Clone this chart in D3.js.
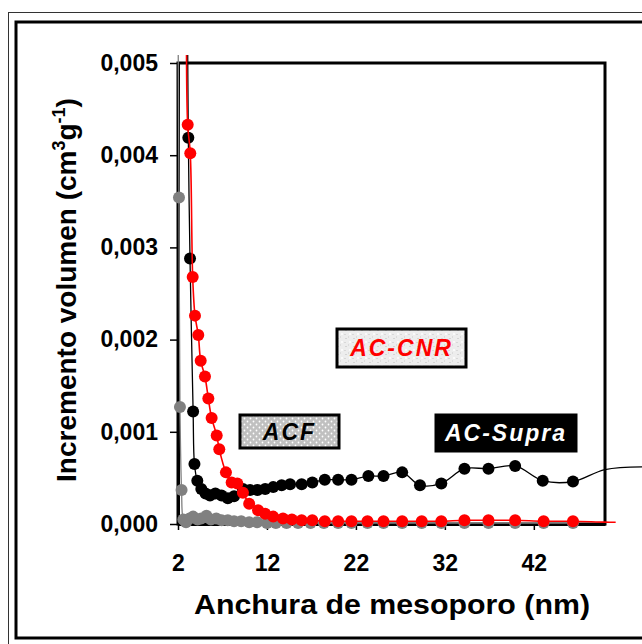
<!DOCTYPE html>
<html>
<head>
<meta charset="utf-8">
<script src="https://cdn.jsdelivr.net/npm/d3@7"></script>
<style>
  body { margin: 0; background: #fff; }
  svg { display: block; font-family: "Liberation Sans", Arial, sans-serif; }
</style>
</head>
<body>
<svg id="chart" width="642" height="644"></svg>
<script>
// AC-CNR (red)
const cnrX = [2.95, 3.09, 3.38, 3.65, 3.91, 4.28, 4.55, 5.03, 5.41, 5.78, 6.35, 6.64, 7.39, 8.03, 8.67, 9.3, 10.0, 11.0, 11.8, 12.7, 13.8, 14.8, 15.9, 17.1, 18.5, 20.0, 21.5, 23.3, 25.1, 27.2, 29.4, 31.6, 34.2, 36.9, 39.9, 43.1, 46.4, 50.0, 51.2];
const cnrY = [0.0053, 0.00433, 0.00402, 0.00268, 0.00226, 0.00205, 0.00177, 0.00160, 0.00136, 0.00115, 0.00096, 0.00081, 0.00056, 0.00045, 0.00044, 0.00034, 0.00022, 0.00015, 0.00011, 0.00008, 0.00006, 0.00005, 0.00004, 0.00004, 0.00003, 0.00003, 0.00003, 0.00003, 0.00003, 0.00003, 0.00003, 0.00003, 0.00004, 0.00004, 0.00004, 0.00003, 0.00003, 0.00002, 0.00002];

// AC-Supra (black)
const supraX = [3.05, 3.16, 3.35, 3.70, 3.85, 4.17, 4.62, 5.1, 5.6, 6.2, 6.9, 7.6, 8.3, 9.3, 10.1, 10.95, 11.8, 12.7, 13.65, 14.6, 15.9, 17.1, 18.5, 20.0, 21.5, 23.4, 25.1, 27.2, 29.2, 31.6, 34.2, 36.9, 39.9, 43.0, 46.4, 50.0, 54.5];
const supraY = [0.0058, 0.00419, 0.00288, 0.00122, 0.00065, 0.00047, 0.00038, 0.00033, 0.00031, 0.00033, 0.00031, 0.00028, 0.00030, 0.00038, 0.00037, 0.00037, 0.00038, 0.00040, 0.00042, 0.00043, 0.00043, 0.00045, 0.00048, 0.00048, 0.00048, 0.00052, 0.00052, 0.00056, 0.00042, 0.00044, 0.00060, 0.00060, 0.00063, 0.00047, 0.00046, 0.00059, 0.00062];

// ACF (gray)
const acfX = [2.0, 2.11, 2.22, 2.40, 2.6, 2.9, 3.3, 3.7, 4.2, 4.6, 5.2, 5.7, 6.3, 6.9, 7.6, 8.3, 9.1, 10.0, 10.9, 12.0, 13.0, 14.2, 15.5, 16.9, 18.4, 20.0, 21.5, 23.3, 25.1, 27.2, 29.4, 31.6, 34.2, 36.9, 39.9, 43.1, 46.4];
const acfY = [0.0056, 0.00354, 0.00127, 0.00037, 0.00005, 0.00002, 0.00006, 0.00008, 0.00005, 0.00006, 0.00009, 0.00005, 0.00006, 0.00004, 0.00004, 0.00003, 0.00003, 0.00002, 0.00002, 0.00001, 0.00001, 0.00001, 0.00001, 0.00001, 0.00001, 0.00001, 0.00001, 0.00001, 0.00001, 0.00001, 0.00001, 0.00001, 0.00001, 0.00001, 0.00001, 0.00001, 0.00001];

const xTicks = [2, 12, 22, 32, 42];
const yTicks = [0, 0.001, 0.002, 0.003, 0.004, 0.005];

const svg = d3.select("#chart");

// outer frames
svg.append("rect").attr("x", 8.5).attr("y", 12.5).attr("width", 700).attr("height", 700)
    .attr("fill", "none").attr("stroke", "#333").attr("stroke-width", 1);
svg.append("rect").attr("x", 16).attr("y", 22).attr("width", 700).attr("height", 616)
    .attr("fill", "#fff").attr("stroke", "#000").attr("stroke-width", 3);

var x = d3.scaleLinear().domain([2, 50]).range([178, 605]);
var y = d3.scaleLinear().domain([0, 0.005]).range([524, 63]);

// patterns for the label boxes
var defs = svg.append("defs");
var pAcf = defs.append("pattern").attr("id", "dotsAcf").attr("patternUnits", "userSpaceOnUse")
    .attr("width", 6).attr("height", 6);
pAcf.append("rect").attr("width", 6).attr("height", 6).attr("fill", "#c0c0c0");
pAcf.append("circle").attr("cx", 1.5).attr("cy", 1.5).attr("r", 0.9).attr("fill", "#fff");
pAcf.append("circle").attr("cx", 4.5).attr("cy", 4.5).attr("r", 0.9).attr("fill", "#fff");

var pCnr = defs.append("pattern").attr("id", "noiseCnr").attr("patternUnits", "userSpaceOnUse")
    .attr("width", 8).attr("height", 8);
pCnr.append("rect").attr("width", 8).attr("height", 8).attr("fill", "#ededed");
pCnr.append("rect").attr("x", 1).attr("y", 2).attr("width", 2).attr("height", 1).attr("fill", "#d4d4d4");
pCnr.append("rect").attr("x", 5).attr("y", 5).attr("width", 2).attr("height", 2).attr("fill", "#fafafa");
pCnr.append("rect").attr("x", 4).attr("y", 0).attr("width", 1).attr("height", 2).attr("fill", "#dcdcdc");
pCnr.append("rect").attr("x", 0).attr("y", 6).attr("width", 2).attr("height", 1).attr("fill", "#d8d8d8");

defs.append("clipPath").attr("id", "clipLines")
    .append("rect").attr("x", 172).attr("y", 55).attr("width", 470).attr("height", 475);

// plot frame
svg.append("rect").attr("x", 178).attr("y", 63).attr("width", 605 - 178).attr("height", 524 - 63)
    .attr("fill", "#fff").attr("stroke", "#000").attr("stroke-width", 3);

// axes
var fmt = d3.format(".3f");
var yAxis = svg.append("g").attr("transform", "translate(178,0)")
    .call(d3.axisLeft(y).tickValues(yTicks).tickSizeInner(8).tickSizeOuter(0).tickPadding(12)
        .tickFormat(function(d) { return fmt(d).replace(".", ","); }));
var xAxis = svg.append("g").attr("transform", "translate(0,524)")
    .call(d3.axisBottom(x).tickValues(xTicks).tickSizeInner(6).tickSizeOuter(0).tickPadding(25));

[yAxis, xAxis].forEach(function(a) {
    a.select(".domain").attr("stroke", "#000").attr("stroke-width", 3);
    a.selectAll(".tick line").attr("stroke", "#000").attr("stroke-width", 1.5);
    a.selectAll(".tick text").attr("fill", "#000").attr("font-size", 23).attr("font-weight", "bold")
        .attr("font-family", "Liberation Sans, Arial, sans-serif");
});

// series
var series = [
    { name: "ACF", xs: acfX, ys: acfY, color: "#808080", width: 1.3 },
    { name: "AC-Supra", xs: supraX, ys: supraY, color: "#000000", width: 1.3 },
    { name: "AC-CNR", xs: cnrX, ys: cnrY, color: "#ff0000", width: 1.6 }
];

var line = d3.line()
    .x(function(d) { return x(d[0]); })
    .y(function(d) { return y(d[1]); })
    .curve(d3.curveCatmullRom.alpha(0.5));

series.forEach(function(s) {
    var pts = s.xs.map(function(v, i) { return [v, s.ys[i]]; });
    svg.append("path")
        .datum(pts)
        .attr("clip-path", "url(#clipLines)")
        .attr("fill", "none")
        .attr("stroke", s.color)
        .attr("stroke-width", s.width)
        .attr("d", line);

    // markers only for points inside the plot area
    svg.append("g").selectAll("circle")
        .data(pts.filter(function(d) { return d[0] < 49 && d[1] <= 0.005; }))
        .enter()
        .append("circle")
        .attr("cx", function(d) { return x(d[0]); })
        .attr("cy", function(d) { return y(d[1]); })
        .attr("r", 6)
        .attr("fill", s.color);
});

// label boxes
function labelBox(x0, y0, w, h, fill, stroke, txt, color) {
    svg.append("rect").attr("x", x0).attr("y", y0).attr("width", w).attr("height", h)
        .attr("fill", fill).attr("stroke", stroke).attr("stroke-width", 3);
    svg.append("text")
        .attr("x", x0 + w / 2).attr("y", y0 + h / 2 + 8)
        .attr("text-anchor", "middle")
        .attr("font-size", 23).attr("font-weight", "bold").attr("font-style", "italic")
        .attr("letter-spacing", 2)
        .attr("fill", color)
        .text(txt);
}
labelBox(337, 329, 129, 38, "url(#noiseCnr)", "#000", "AC-CNR", "#ff0000");
labelBox(240, 415, 99, 33, "url(#dotsAcf)", "#000", "ACF", "#000");
labelBox(436, 415, 140, 36, "#000", "#000", "AC-Supra", "#fff");

// axis titles
svg.append("text")
    .attr("x", 392).attr("y", 614)
    .attr("text-anchor", "middle")
    .attr("font-size", 28).attr("font-weight", "bold")
    .attr("textLength", 396).attr("lengthAdjust", "spacingAndGlyphs")
    .text("Anchura de mesoporo (nm)");

var yTitle = svg.append("text")
    .attr("transform", "translate(76,290) rotate(-90)")
    .attr("text-anchor", "middle")
    .attr("font-size", 28).attr("font-weight", "bold");
yTitle.append("tspan").text("Incremento volumen (cm");
yTitle.append("tspan").attr("font-size", 18).attr("dy", -11).text("3");
yTitle.append("tspan").attr("dy", 11).text("g");
yTitle.append("tspan").attr("font-size", 18).attr("dy", -11).text("-1");
yTitle.append("tspan").attr("dy", 11).text(")");
</script>
</body>
</html>
